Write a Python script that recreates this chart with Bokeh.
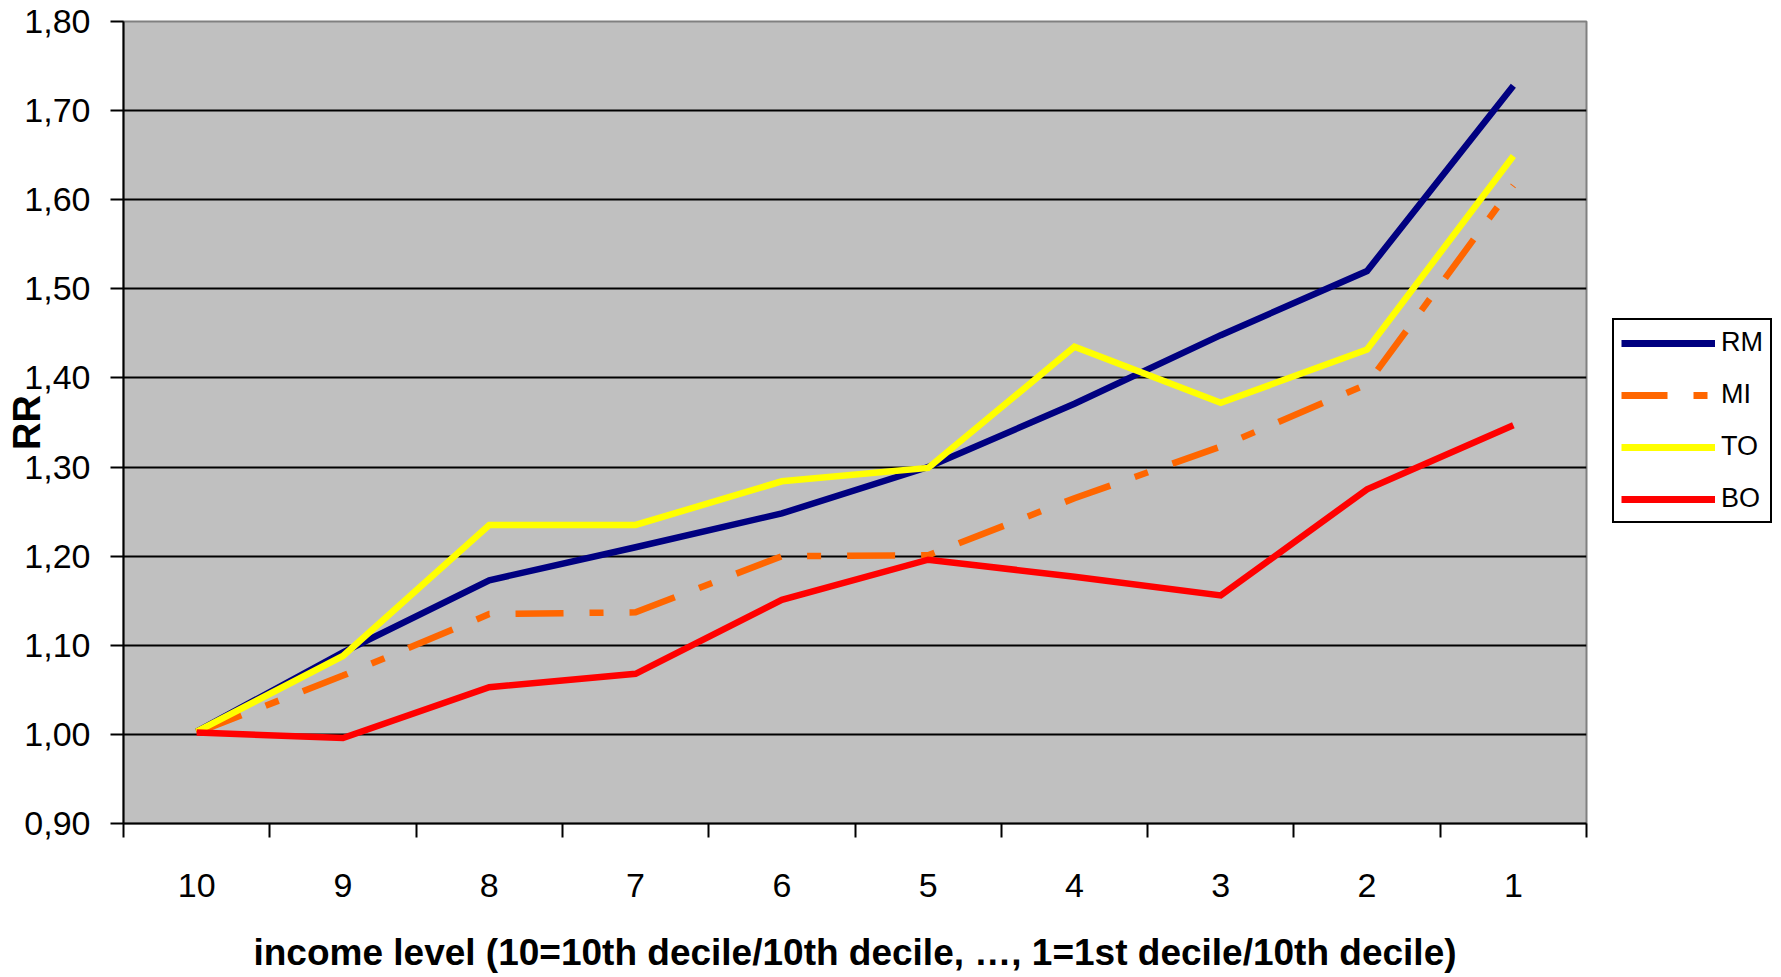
import numpy as np
from bokeh.plotting import figure
from bokeh.layouts import row
from bokeh.models import (FixedTicker, CustomJSTickFormatter, Legend, LegendItem,
                          Range1d)
from bokeh.embed import file_html
from bokeh.resources import INLINE

# ---- data ----
categories = ["10", "9", "8", "7", "6", "5", "4", "3", "2", "1"]
rm = [1.003, 1.092, 1.173, 1.210, 1.248, 1.300, 1.371, 1.448, 1.520, 1.728]
mi = [1.002, 1.066, 1.135, 1.137, 1.200, 1.201, 1.265, 1.323, 1.393, 1.616]
to = [1.003, 1.088, 1.235, 1.235, 1.284, 1.299, 1.435, 1.372, 1.432, 1.649]
bo = [1.002, 0.996, 1.053, 1.068, 1.151, 1.196, 1.177, 1.156, 1.275, 1.347]
series_names = ["RM", "MI", "TO", "BO"]
y_ticks = [0.90, 1.00, 1.10, 1.20, 1.30, 1.40, 1.50, 1.60, 1.70, 1.80]
x_title = "income level (10=10th decile/10th decile, \u2026, 1=1st decile/10th decile)"
y_title = "RR"

FONT = "Liberation Sans"
H = 976

n = len(categories)
xc = np.arange(n) + 0.5

p = figure(width=1588, height=H, output_backend="svg", toolbar_location=None,
           x_range=Range1d(0, n), y_range=Range1d(y_ticks[0], y_ticks[-1]),
           min_border_left=123, min_border_right=2,
           min_border_top=21, min_border_bottom=153)

p.background_fill_color = "#C0C0C0"
p.border_fill_color = "white"
p.outline_line_color = "#808080"
p.outline_line_width = 2

# x axis: labels at category centres, tick marks between categories
xa = p.xaxis[0]
xa.ticker = FixedTicker(ticks=list(xc), minor_ticks=list(range(n + 1)))
xa.major_label_overrides = {float(v): c for v, c in zip(xc, categories)}
xa.major_tick_out = 0
xa.major_tick_in = 0
xa.minor_tick_out = 14
xa.minor_tick_in = 0
xa.minor_tick_line_color = "black"
xa.minor_tick_line_width = 2
xa.axis_line_color = "black"
xa.axis_line_width = 2
xa.major_label_text_font = FONT
xa.major_label_text_font_size = "34px"
xa.major_label_text_color = "black"
xa.major_label_standoff = 36
xa.axis_label = x_title
xa.axis_label_text_font = FONT
xa.axis_label_text_font_size = "37px"
xa.axis_label_text_font_style = "bold"
xa.axis_label_text_color = "black"
xa.axis_label_standoff = 32

ya = p.yaxis[0]
ya.ticker = FixedTicker(ticks=y_ticks)
ya.formatter = CustomJSTickFormatter(code="return tick.toFixed(2).replace('.', ',');")
ya.major_tick_out = 13
ya.major_tick_in = 0
ya.major_tick_line_width = 2
ya.major_tick_line_color = "black"
ya.minor_tick_line_color = None
ya.axis_line_color = "black"
ya.axis_line_width = 2
ya.major_label_text_font = FONT
ya.major_label_text_font_size = "34px"
ya.major_label_text_color = "black"
ya.major_label_standoff = 20
ya.axis_label = y_title
ya.axis_label_text_font = FONT
ya.axis_label_text_font_size = "38px"
ya.axis_label_text_font_style = "bold"
ya.axis_label_text_color = "black"
ya.axis_label_standoff = -27

p.xgrid.visible = False
p.ygrid.ticker = FixedTicker(ticks=y_ticks[1:-1])
p.ygrid.grid_line_color = "black"
p.ygrid.grid_line_width = 2

series = [rm, mi, to, bo]
colors = ["#000080", "#FF6600", "#FFFF00", "#FF0000"]
dashes = ["solid", "48 26 14 26", "solid", "solid"]
for vals, col, dash in zip(series, colors, dashes):
    p.line(xc, vals, line_color=col, line_width=6.5, line_dash=dash,
           line_cap="butt", line_join="miter")

# ---- legend panel (separate figure, to the right of the plot area) ----
q = figure(width=1780 - 1588, height=H, output_backend="svg", toolbar_location=None,
           x_range=Range1d(0, n), y_range=Range1d(y_ticks[0], y_ticks[-1]),
           min_border_left=0, min_border_right=0, min_border_top=21, min_border_bottom=153)
q.axis.visible = False
q.grid.visible = False
q.outline_line_color = None
q.background_fill_color = "white"
q.border_fill_color = "white"

legend_dashes = ["solid", "46 26 14 30", "solid", "solid"]
swatches = []
for vals, col, dash in zip(series, colors, legend_dashes):
    r = q.line(xc, vals, line_color=col, line_width=7, line_dash=dash, line_cap="butt")
    r.visible = False
    swatches.append(r)

legend = Legend(items=[LegendItem(label=nm, renderers=[r]) for nm, r in zip(series_names, swatches)],
                location=(24, 300))
legend.border_line_color = "black"
legend.border_line_width = 2
legend.border_line_alpha = 1
legend.background_fill_color = "white"
legend.background_fill_alpha = 1
legend.inactive_fill_alpha = 0
legend.label_text_font = FONT
legend.label_text_font_size = "27px"
legend.label_text_color = "black"
legend.glyph_width = 94
legend.glyph_height = 30
legend.label_height = 30
legend.label_standoff = 6
legend.spacing = 21
legend.padding = 7
legend.margin = 0
q.add_layout(legend)

layout = row(p, q)
open("out.html", "w").write(file_html(layout, INLINE))
